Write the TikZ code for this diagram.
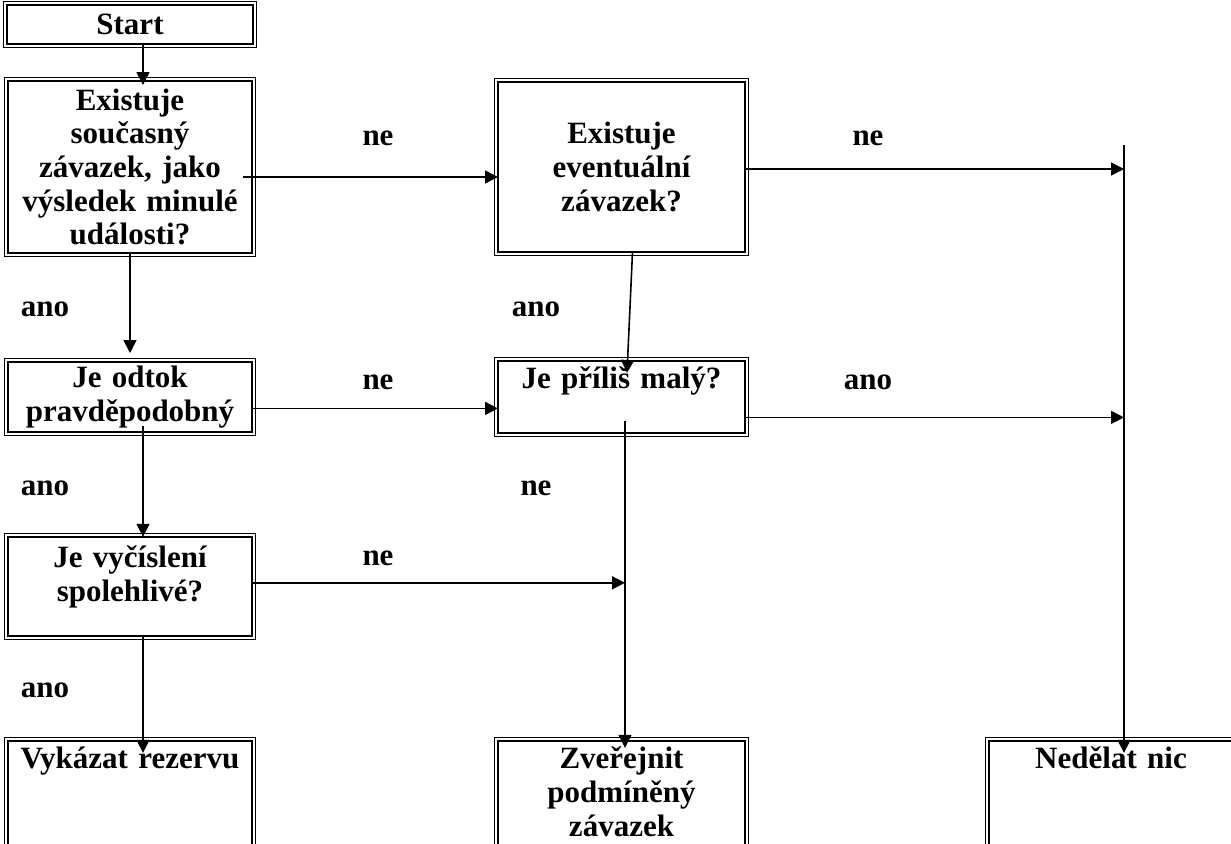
\documentclass[tikz,border=0pt]{standalone}
\usepackage{fontspec}
\setmainfont{Liberation Serif}
\usetikzlibrary{positioning, arrows.meta}

\begin{document}
\begin{tikzpicture}[x=0.5pt, y=-0.5pt,
    font=\fontsize{15.5}{16.8}\selectfont\bfseries,
    >={Triangle[length=6.5pt, width=6.5pt]},
    bx/.style={draw, line width=1.3pt, outer sep=0pt, inner sep=2pt, align=center,
      append after command={\pgfextra{\draw[line width=0.5pt]
        ([shift={(-1.6pt,-1.6pt)}]\tikzlastnode.south west) rectangle
        ([shift={(1.6pt,1.6pt)}]\tikzlastnode.north east);}}},
    narrow/.style={bx, minimum width=122pt, text width=118pt},
    wide/.style={bx, minimum width=123.5pt, text width=119pt},
    attop/.style={text height=12pt, text depth=#1},
    lab/.style={inner sep=0pt},
    arr/.style={->, line width=0.8pt}]
		\useasboundingbox (0,0) rectangle (1231,843);
		\clip (0,0) rectangle (1231,843);

		\node [bx, minimum width=123pt, text width=119pt, minimum height=19.5pt] (start) at (130,24.5) {Start};
		\node [narrow, minimum height=86pt, below=18.5pt of start] (A) {Existuje\\současný\\závazek, jako\\výsledek minulé\\události?};
		\node [wide, minimum height=85pt, right=123pt of A] (B) {Existuje\\eventuální\\závazek?};
		\node [narrow, minimum height=34.5pt, below=54.5pt of A] (C) {Je odtok\\pravděpodobný};
		\node [wide, minimum height=36pt, attop=20pt, right=123pt of C] (D) {Je příliš malý?};
		\node [narrow, minimum height=49.5pt, text height=13.5pt, text depth=32pt, below=52.5pt of C] (E) {Je vyčíslení\\spolehlivé?};
		\node [narrow, attop=54pt, below=52.5pt of E] (F) {Vykázat rezervu};
		\node [wide, attop=54pt, right=123pt of F] (G) {Zveřejnit\\podmíněný\\závazek};
		\node [narrow, attop=54pt, right=122pt of G] (H) {Nedělat nic};

		\node [lab] (ne1) at (378,138) {ne};
		\node [lab] (ne2) at (868,138) {ne};
		\node [lab] (ano1) at (45,309) {ano};
		\node [lab] (ano2) at (536,309) {ano};
		\node [lab] (ne3) at (378,382) {ne};
		\node [lab] (ano3) at (868,382) {ano};
		\node [lab] (ano4) at (45,488) {ano};
		\node [lab] (ne4) at (536,488) {ne};
		\node [lab] (ne5) at (378,558) {ne};
		\node [lab] (ano5) at (45,690) {ano};

		\coordinate (htop) at ([xshift=6.5pt, yshift=298pt]H.north);
		\coordinate (d1) at ([yshift=-10.25pt]D.east);
		\coordinate (d2) at ([xshift=1.75pt, yshift=6pt]D.south);
		\coordinate (e1) at ([yshift=1.75pt]E.east);

		\path[arr] ([xshift=6.5pt]start.south) edge ([xshift=6.5pt, yshift=-2pt]A.north);
		\path[arr] ([xshift=-4.5pt, yshift=-5pt]A.east) edge ([yshift=-5pt]B.west);
		\path[arr] ([yshift=-1pt]B.east) edge ([yshift=-1pt]B.east -| htop);
		\path[arr] (htop) edge ([xshift=6.5pt, yshift=-6pt]H.north);
		\path[arr] (A.south) edge ([yshift=4.5pt]C.north);
		\path[arr] ([xshift=5.5pt]B.south) edge ([xshift=2.75pt, yshift=-6pt]D.north);
		\path[arr] ([yshift=-5.75pt]C.east) edge ([yshift=-5.75pt]D.west);
		\path[arr] (d1) edge (d1 -| htop);
		\path[arr] ([xshift=6.5pt, yshift=3pt]C.south) edge ([xshift=6.5pt]E.north);
		\path[arr] (d2) edge ([xshift=1.75pt, yshift=-3.5pt]G.north);
		\path[arr] (e1) edge (e1 -| d2);
		\path[arr] ([xshift=6.5pt]E.south) edge ([xshift=6.5pt, yshift=-6pt]F.north);
	\end{tikzpicture}
\end{document}
